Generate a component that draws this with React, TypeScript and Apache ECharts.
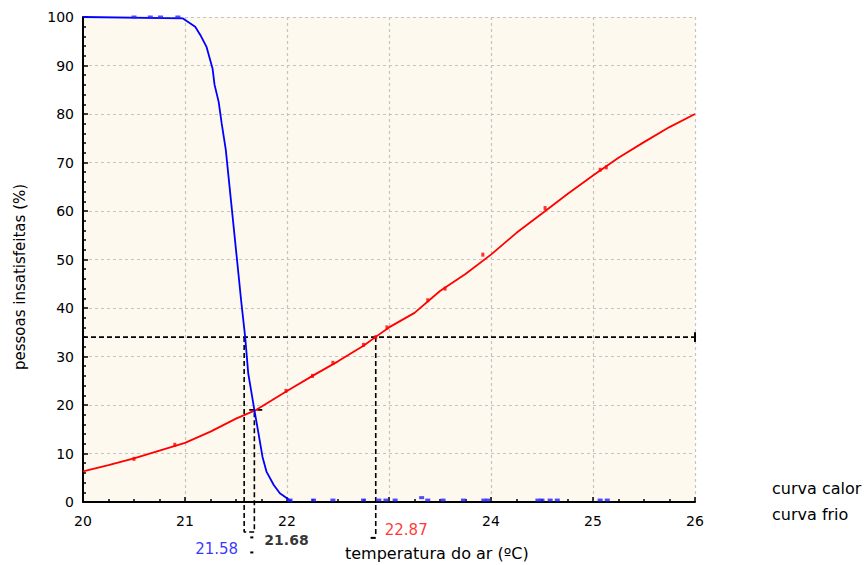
import React, { useEffect, useRef } from "react";
import * as echarts from "echarts";

// curva calor (red)
const calorX = [20, 20.25, 20.5, 20.75, 21, 21.25, 21.5, 21.7, 22, 22.25, 22.5, 22.75, 22.88, 23, 23.25, 23.5, 23.75, 24, 24.25, 24.5, 24.75, 25, 25.25, 25.5, 25.75, 26];
const calorY = [6.3, 7.6, 9.0, 10.6, 12.2, 14.5, 17.2, 19.0, 22.9, 26.0, 29.0, 32.2, 34.2, 36.0, 39.0, 43.5, 47.0, 51.0, 55.5, 59.5, 63.5, 67.3, 71.0, 74.2, 77.3, 80.0];
const calorPtsX = [20.5, 20.9, 21.99, 22.25, 22.45, 22.75, 22.87, 22.98, 23.38, 23.55, 23.92, 24.53, 25.07, 25.13];
const calorPtsY = [8.9, 11.8, 22.9, 26.0, 28.7, 32.4, 34.0, 36.0, 41.6, 44.0, 51.0, 60.6, 68.5, 69.0];

// curva frio (blue)
const frioX = [20, 20.98, 21.1, 21.15, 21.21, 21.27, 21.29, 21.33, 21.36, 21.4, 21.45, 21.5, 21.53, 21.55, 21.59, 21.62, 21.68, 21.72, 21.76, 21.8, 21.87, 21.93, 22.01, 22.05];
const frioY = [100, 99.7, 98, 96.3, 93.9, 89.4, 86, 82.5, 78, 72.6, 62.3, 52, 45.8, 41.6, 34, 26.5, 19, 14.2, 9.3, 6.2, 3.5, 1.8, 0.6, 0];
const frioPtsX = [20.5, 20.66, 20.76, 20.93, 22.03, 22.26, 22.45, 22.75, 22.9, 22.97, 23.06, 23.32, 23.38, 23.53, 23.73, 23.93, 23.97, 24.46, 24.5, 24.58, 24.65, 25.07, 25.14];
const frioPtsY = [100, 100, 100, 100, 0.4, 0.4, 0.4, 0.4, 0.4, 0.4, 0.4, 0.9, 0.4, 0.4, 0.4, 0.4, 0.4, 0.4, 0.4, 0.4, 0.4, 0.4, 0.4];

// annotations
const limitPD = 34;
const tFrio = 21.58;
const tCross = 21.68;
const yCross = 19;
const tCalor = 22.87;

const xTicks = [20, 21, 22, 23, 24, 25, 26];
const hiddenXTick = 23;

const FONT = "DejaVu Sans";

export default function App() {
  const ref = useRef<HTMLDivElement>(null);
  useEffect(() => {
    if (!ref.current) return;
    const chart = echarts.init(ref.current, null, { renderer: "svg" });
    const zip = (xs: number[], ys: number[]) => xs.map((x, i) => [x, ys[i]]);
    const dash = { color: "#000", width: 1.6, type: [5, 3] as any };
    const leader = (data: any[]) => ({
      type: "line",
      data,
      clip: false,
      symbol: "none",
      silent: true,
      lineStyle: dash,
      z: 4,
    });
    const solid = (data: any[]) => ({
      type: "line",
      data,
      clip: false,
      symbol: "none",
      silent: true,
      lineStyle: { color: "#000", width: 2 },
      z: 4,
    });
    chart.setOption({
      animation: false,
      backgroundColor: "#fff",
      textStyle: { fontFamily: FONT },
      grid: { left: 83, right: 173, top: 17, bottom: 63, show: true, backgroundColor: "#fdf9ee", borderWidth: 0 },
      legend: {
        data: ["curva calor", "curva frio"],
        orient: "vertical",
        left: 761,
        top: 475,
        itemWidth: 0,
        itemHeight: 0,
        itemGap: 10,
        textStyle: { fontFamily: FONT, fontSize: 16, color: "#000" },
        selectedMode: false,
      },
      xAxis: {
        type: "value",
        min: 20,
        max: 26,
        interval: 1,
        axisLine: { show: true, onZero: false, lineStyle: { color: "#000", width: 2 } },
        axisTick: { show: true, inside: true, length: 5, lineStyle: { color: "#000", width: 1.5 } },
        minorTick: { show: true, splitNumber: 4, length: 3, lineStyle: { color: "#000", width: 1.5 } },
        axisLabel: {
          color: "#000",
          fontSize: 14,
          fontFamily: FONT,
          margin: 12,
          formatter: (v: number) => (v === hiddenXTick || !xTicks.includes(v) ? "" : String(v)),
        },
        splitLine: { show: true, lineStyle: { color: "#c4c4c4", type: [3, 3], width: 1.2 } },
      },
      yAxis: {
        type: "value",
        min: 0,
        max: 100,
        interval: 10,
        axisLine: { show: true, lineStyle: { color: "#000", width: 2 } },
        axisTick: { show: true, inside: true, length: 5, lineStyle: { color: "#000", width: 1.5 } },
        minorTick: { show: true, splitNumber: 5, length: 3, lineStyle: { color: "#000", width: 1.5 } },
        axisLabel: { color: "#000", fontSize: 14, fontFamily: FONT, margin: 9 },
        splitLine: { show: true, lineStyle: { color: "#c4c4c4", type: [3, 3], width: 1.2 } },
      },
      series: [
        leader([[20, limitPD], [26, limitPD]]),
        leader([[tFrio, limitPD], [tFrio, -6.2], [tCross, -6.2], [tCross, yCross]]),
        leader([[21.63, yCross], [21.77, yCross]]),
        leader([[tCalor, limitPD], [tCalor, -7.2]]),
        solid([[20, limitPD - 1], [20, limitPD + 1]]),
        solid([[26, limitPD - 1], [26, limitPD + 1]]),
        solid([[21.64, -7.3], [21.67, -7.3]]),
        solid([[21.64, -10.4], [21.67, -10.4]]),
        solid([[22.82, -7.4], [22.87, -7.4]]),
        {
          name: "curva calor",
          type: "line",
          data: zip(calorX, calorY),
          symbol: "none",
          lineStyle: { color: "#ff0000", width: 1.8 },
          itemStyle: { color: "#ff0000" },
          z: 5,
        },
        {
          name: "calor pontos",
          type: "scatter",
          data: zip(calorPtsX, calorPtsY),
          symbol: "rect",
          symbolSize: [3, 4],
          itemStyle: { color: "#ff0000" },
          z: 5,
        },
        {
          name: "curva frio",
          type: "line",
          data: zip(frioX, frioY),
          symbol: "none",
          lineStyle: { color: "#0000ff", width: 1.8 },
          itemStyle: { color: "#0000ff" },
          z: 6,
        },
        {
          name: "frio pontos",
          type: "scatter",
          data: zip(frioPtsX, frioPtsY),
          symbol: "rect",
          symbolSize: [5, 3],
          itemStyle: { color: "#2020ff" },
          clip: false,
          z: 6,
        },
        {
          type: "scatter",
          clip: false,
          symbolSize: 0,
          silent: true,
          z: 7,
          data: [
            { value: [tFrio, -9.7], label: { show: true, formatter: String(tFrio), position: "left", distance: 6, color: "#0000ff", fontSize: 15, fontFamily: FONT } },
            { value: [tCross, -7.9], label: { show: true, formatter: String(tCross), position: "right", distance: 10, color: "#000", fontWeight: "bold", fontSize: 14, fontFamily: FONT } },
            { value: [tCalor, -5.8], label: { show: true, formatter: String(tCalor), position: "right", distance: 9, color: "#ff0000", fontSize: 15, fontFamily: FONT } },
          ],
        },
      ],
      graphic: [
        {
          type: "text",
          left: 345,
          top: 545,
          style: { text: "temperatura do ar (ºC)", fontSize: 16, fontFamily: FONT, fill: "#000" },
        },
        {
          type: "text",
          x: 20,
          y: 277,
          rotation: Math.PI / 2,
          style: { text: "pessoas insatisfeitas (%)", fontSize: 15, fontFamily: FONT, fill: "#000", align: "center", verticalAlign: "middle" },
        },
      ],
    });
    return () => chart.dispose();
  }, []);
  return <div ref={ref} style={{ width: 868, height: 565, position: "absolute", left: 0, top: 0 }} />;
}
